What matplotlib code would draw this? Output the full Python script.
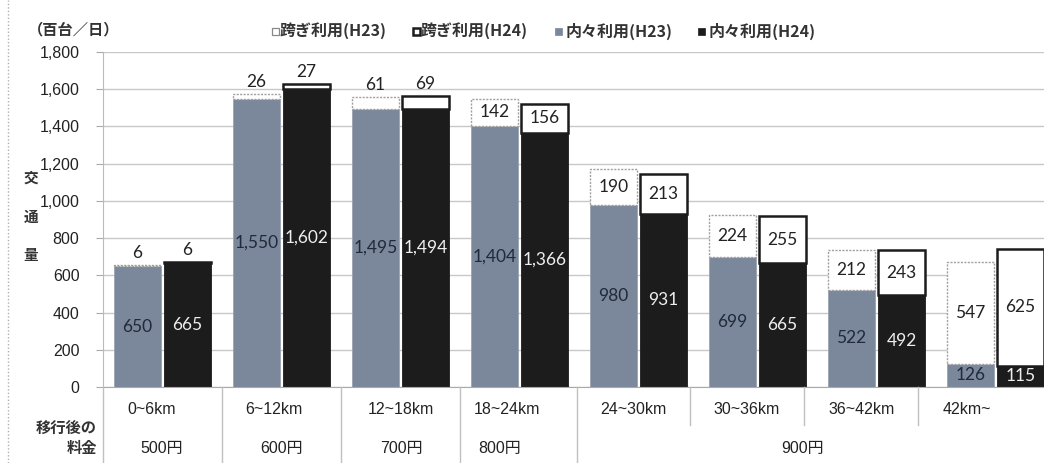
import matplotlib
matplotlib.use("Agg")
import matplotlib.pyplot as plt
from matplotlib.patches import Rectangle
from matplotlib.lines import Line2D

# ---- data ----
categories = ["0~6km", "6~12km", "12~18km", "18~24km", "24~30km", "30~36km", "36~42km", "42km~"]
fees = ["500円", "600円", "700円", "800円", "900円"]
inner_h23 = [650, 1550, 1495, 1404, 980, 699, 522, 126]
inner_h24 = [665, 1602, 1494, 1366, 931, 665, 492, 115]
cross_h23 = [6, 26, 61, 142, 190, 224, 212, 547]
cross_h24 = [6, 27, 69, 156, 213, 255, 243, 625]
yticks = [0, 200, 400, 600, 800, 1000, 1200, 1400, 1600, 1800]
legend_labels = ["跨ぎ利用(H23)", "跨ぎ利用(H24)", "内々利用(H23)", "内々利用(H24)"]

GRAY = "#7b879b"
BLACK = "#1c1c1c"
JP = ["Noto Sans CJK JP", "DejaVu Sans"]
NUM = ["Lato", "Noto Sans CJK JP", "DejaVu Sans"]
ARIAL = ["Liberation Sans", "Noto Sans CJK JP", "DejaVu Sans"]

W, H = 1044, 463
fig = plt.figure(figsize=(W / 100, H / 100), dpi=100)
fig.patch.set_facecolor("white")

def fx(px):
    return px / W

def fy(py):
    return (H - py) / H

ax_left, ax_right, ax_top, ax_bot = 103, 1055, 52, 387
ax = fig.add_axes([fx(ax_left), fy(ax_bot), (ax_right - ax_left) / W, (ax_bot - ax_top) / H])
ax.set_xlim(0, len(categories))
ax.set_ylim(0, 1800)
ax.set_yticks(yticks)
ax.set_yticklabels([f"{v:,}" for v in yticks], fontfamily=ARIAL, fontsize=11.5, color="#222222")
ax.set_xticks([])
ax.tick_params(axis="y", length=5, width=0.8, color="#aaaaaa", pad=12)
ax.yaxis.grid(True, color="#c8c8c8", linewidth=1.0)
ax.set_axisbelow(True)
for s in ["top", "right"]:
    ax.spines[s].set_visible(False)
ax.spines["left"].set_color("#bbbbbb")
ax.spines["bottom"].set_color("#aaaaaa")

off = 0.21
bw = 0.395
xs = [i + 0.5 for i in range(len(categories))]
x1 = [x - off for x in xs]
x2 = [x + off for x in xs]

ax.bar(x1, inner_h23, width=bw, color=GRAY, edgecolor="#9aa3b0", linewidth=0.6, zorder=2)
ax.bar(x2, inner_h24, width=bw, color=BLACK, edgecolor=BLACK, linewidth=0.6, zorder=2)
ax.bar(x1, cross_h23, width=bw, bottom=inner_h23, color="white", edgecolor="#a0a0a0",
       linewidth=1.0, linestyle=(0, (1.5, 1)), zorder=3)
ax.bar(x2, cross_h24, width=bw, bottom=inner_h24, color="white", edgecolor=BLACK,
       linewidth=1.8, zorder=3)

LFS = 12.5
for i in range(len(categories)):
    ax.text(x1[i], inner_h23[i] / 2, f"{inner_h23[i]:,}", ha="center", va="center",
            fontsize=LFS, fontfamily=NUM, color="#1f2a3a", zorder=5)
    ax.text(x2[i], inner_h24[i] / 2, f"{inner_h24[i]:,}", ha="center", va="center",
            fontsize=LFS, fontfamily=NUM, color="#eeeeee", zorder=5)
    for xx, base, val in [(x1[i], inner_h23[i], cross_h23[i]), (x2[i], inner_h24[i], cross_h24[i])]:
        if val < 100:
            ax.annotate(f"{val:,}", (xx, base + val), xytext=(0, 3), textcoords="offset points",
                        ha="center", va="bottom", fontsize=LFS, fontfamily=NUM, color="#222222",
                        zorder=5)
        else:
            ax.text(xx, base + val / 2, f"{val:,}", ha="center", va="center",
                    fontsize=LFS, fontfamily=NUM, color="#222222", zorder=5)

# ---- unit and y label ----
fig.text(fx(28), fy(29), "（百台／日）", ha="left", va="center", fontsize=11,
         fontfamily=JP, fontweight="bold", color="#333333")
for ch, yy in zip("交通量", [178, 217, 255]):
    fig.text(fx(31), fy(yy), ch, ha="center", va="center", fontsize=10.5,
             fontfamily=JP, fontweight="bold", color="#333333")

# ---- legend ----
leg_sq = [272, 413, 555, 698]
leg_tx = [280, 421, 566, 709]
ly = 31
sq = 7
styles = [
    dict(facecolor="white", edgecolor="#888888", linewidth=0.9),
    dict(facecolor="white", edgecolor=BLACK, linewidth=1.8),
    dict(facecolor=GRAY, edgecolor=GRAY, linewidth=0.5),
    dict(facecolor=BLACK, edgecolor=BLACK, linewidth=0.5),
]
for sx, tx, lab, st in zip(leg_sq, leg_tx, legend_labels, styles):
    fig.patches.append(Rectangle((fx(sx), fy(ly + sq / 2)), sq / W, sq / H,
                                 transform=fig.transFigure, figure=fig, **st))
    fig.text(fx(tx), fy(ly), lab, ha="left", va="center", fontsize=11.5,
             fontfamily=JP, fontweight="bold", color="#333333")

# ---- table below ----
sep_full = [103, 222, 341, 460, 577]
sep_half = [690, 804, 918]
for sx in sep_full:
    fig.add_artist(Line2D([fx(sx), fx(sx)], [fy(387), fy(463)], color="#c0c0c0",
                          linewidth=1.0, transform=fig.transFigure))
for sx in sep_half:
    fig.add_artist(Line2D([fx(sx), fx(sx)], [fy(387), fy(425)], color="#c0c0c0",
                          linewidth=1.0, transform=fig.transFigure))

cat_px = [152, 274, 401, 507, 633, 747, 862, 967]
for cx, lab in zip(cat_px, categories):
    fig.text(fx(cx), fy(410), lab, ha="center", va="center", fontsize=11.5,
             fontfamily=ARIAL, color="#222222")
fee_px = [162, 282, 401, 500, 803]
for cx, lab in zip(fee_px, fees):
    fig.text(fx(cx), fy(448), lab, ha="center", va="center", fontsize=11.5,
             fontfamily=ARIAL, color="#222222")

fig.text(fx(97), fy(428), "移行後の", ha="right", va="center", fontsize=11,
         fontfamily=JP, fontweight="bold", color="#333333")
fig.text(fx(97), fy(448), "料金", ha="right", va="center", fontsize=11,
         fontfamily=JP, fontweight="bold", color="#333333")

# left dotted frame
fig.add_artist(Line2D([fx(8), fx(8)], [0, 1], color="#b0b0b0", linewidth=1.0,
                      linestyle=(0, (1, 1.5)), transform=fig.transFigure))

fig.savefig("out.png", dpi=100)
